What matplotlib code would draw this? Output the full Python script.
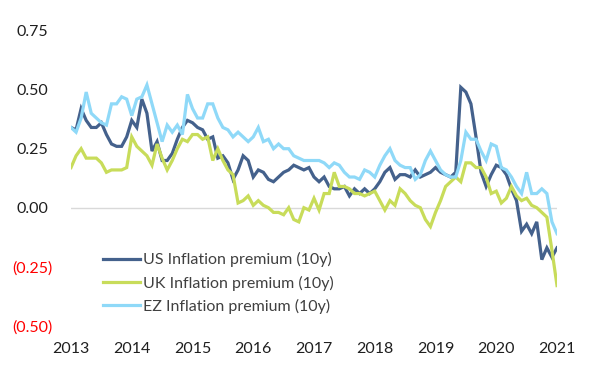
import matplotlib
matplotlib.use("Agg")
import matplotlib.pyplot as plt
import matplotlib.transforms as mtransforms
import numpy as np

plt.rcParams['font.family'] = ['Lato', 'DejaVu Sans']

years = [2013, 2014, 2015, 2016, 2017, 2018, 2019, 2020, 2021]

us = [0.34, 0.33, 0.42, 0.37, 0.34, 0.34, 0.36, 0.31, 0.27, 0.26, 0.26, 0.30,
      0.37, 0.34, 0.46, 0.40, 0.24, 0.28, 0.20, 0.20, 0.23, 0.29, 0.34, 0.37,
      0.36, 0.34, 0.33, 0.29, 0.30, 0.21, 0.22, 0.19, 0.12, 0.16, 0.22, 0.20,
      0.13, 0.16, 0.15, 0.12, 0.11, 0.13, 0.15, 0.16, 0.18, 0.17, 0.16, 0.17,
      0.13, 0.11, 0.13, 0.09, 0.08, 0.08, 0.09, 0.05, 0.08, 0.06, 0.08, 0.06,
      0.08, 0.11, 0.15, 0.17, 0.12, 0.14, 0.14, 0.13, 0.16, 0.13, 0.14, 0.15,
      0.17, 0.15, 0.14, 0.13, 0.15, 0.51, 0.49, 0.44, 0.30, 0.15, 0.09, 0.14,
      0.18, 0.17, 0.14, 0.08, 0.03, -0.10, -0.07, -0.11, -0.06, -0.22, -0.17, -0.21,
      -0.17]

uk = [0.17, 0.22, 0.25, 0.21, 0.21, 0.21, 0.19, 0.15, 0.16, 0.16, 0.16, 0.17,
      0.30, 0.26, 0.24, 0.22, 0.18, 0.27, 0.21, 0.16, 0.20, 0.25, 0.29, 0.28,
      0.31, 0.31, 0.29, 0.30, 0.20, 0.25, 0.20, 0.16, 0.14, 0.02, 0.03, 0.05,
      0.01, 0.03, 0.01, 0.00, -0.02, -0.02, -0.03, 0.00, -0.05, -0.06, 0.00, -0.01,
      0.04, -0.01, 0.06, 0.06, 0.15, 0.09, 0.09, 0.08, 0.06, 0.06, 0.05, 0.06,
      0.07, 0.03, -0.01, 0.03, 0.01, 0.08, 0.06, 0.03, 0.01, 0.00, -0.05, -0.08,
      -0.02, 0.03, 0.09, 0.11, 0.13, 0.11, 0.19, 0.19, 0.17, 0.17, 0.13, 0.06,
      0.07, 0.02, 0.04, 0.09, 0.05, 0.03, 0.04, 0.01, 0.00, -0.02, -0.04, -0.18,
      -0.33]

ez = [0.34, 0.32, 0.38, 0.49, 0.40, 0.38, 0.36, 0.35, 0.44, 0.44, 0.47, 0.46,
      0.39, 0.46, 0.47, 0.52, 0.44, 0.36, 0.28, 0.35, 0.32, 0.35, 0.31, 0.48,
      0.42, 0.38, 0.38, 0.44, 0.44, 0.38, 0.34, 0.33, 0.30, 0.32, 0.30, 0.28,
      0.30, 0.34, 0.28, 0.29, 0.25, 0.27, 0.25, 0.25, 0.22, 0.21, 0.20, 0.20,
      0.20, 0.20, 0.19, 0.17, 0.19, 0.18, 0.15, 0.13, 0.13, 0.12, 0.16, 0.15,
      0.13, 0.18, 0.22, 0.25, 0.20, 0.18, 0.17, 0.17, 0.12, 0.14, 0.20, 0.24,
      0.20, 0.16, 0.14, 0.13, 0.13, 0.20, 0.32, 0.29, 0.29, 0.24, 0.20, 0.27,
      0.26, 0.17, 0.16, 0.13, 0.09, 0.06, 0.15, 0.06, 0.06, 0.08, 0.06, -0.06,
      -0.11]

labels = ["US Inflation premium (10y)", "UK Inflation premium (10y)", "EZ Inflation premium (10y)"]
colors = ["#44618c", "#c8dc5a", "#8fd9f8"]
yticks = [-0.50, -0.25, 0.00, 0.25, 0.50, 0.75]

FS = 11.5

fig = plt.figure(figsize=(5.96, 3.78), dpi=100)
ax = fig.add_axes([71/596, 1-325.7/378, (557-71)/596, (325.7-30.7)/378])

x = np.arange(len(us))
ax.axhline(0, color="#d9d9d9", lw=1.0, zorder=1)
for series, lab, c in zip([us, uk, ez], labels, colors):
    ax.plot(x, series, color=c, lw=2.3, label=lab, zorder=3, solid_joinstyle='miter')

ax.set_xlim(0, len(us) - 1)
ax.set_ylim(-0.5, 0.75)
ax.set_xticks([12 * i for i in range(len(years))])
ax.set_xticklabels([str(y) for y in years])


def fmt(v):
    if v < 0:
        return "(%.2f)" % abs(v)
    return "%.2f" % v


ax.set_yticks(yticks)
ax.set_yticklabels([fmt(v) for v in yticks])
for lbl, v in zip(ax.get_yticklabels(), yticks):
    lbl.set_color("#ff0000" if v < 0 else "#1f1f1f")

ax.tick_params(axis='both', length=0, labelsize=FS)
ax.tick_params(axis='x', pad=12, colors="#1f1f1f")
ax.tick_params(axis='y', pad=13)
for s in ax.spines.values():
    s.set_visible(False)

fig.canvas.draw()
offset = mtransforms.ScaledTranslation(-5/100, 0, fig.dpi_scale_trans)
for lbl, v in zip(ax.get_yticklabels(), yticks):
    if v >= 0:
        lbl.set_transform(lbl.get_transform() + offset)

leg = ax.legend(loc='center left', bbox_to_anchor=(103/596, 1-283/378),
                bbox_transform=fig.transFigure, frameon=False, fontsize=FS,
                handlelength=2.3, handletextpad=0.2, labelspacing=0.5,
                borderpad=0, borderaxespad=0)
for t in leg.get_texts():
    t.set_color("#404040")

fig.savefig("out.png", dpi=100)
